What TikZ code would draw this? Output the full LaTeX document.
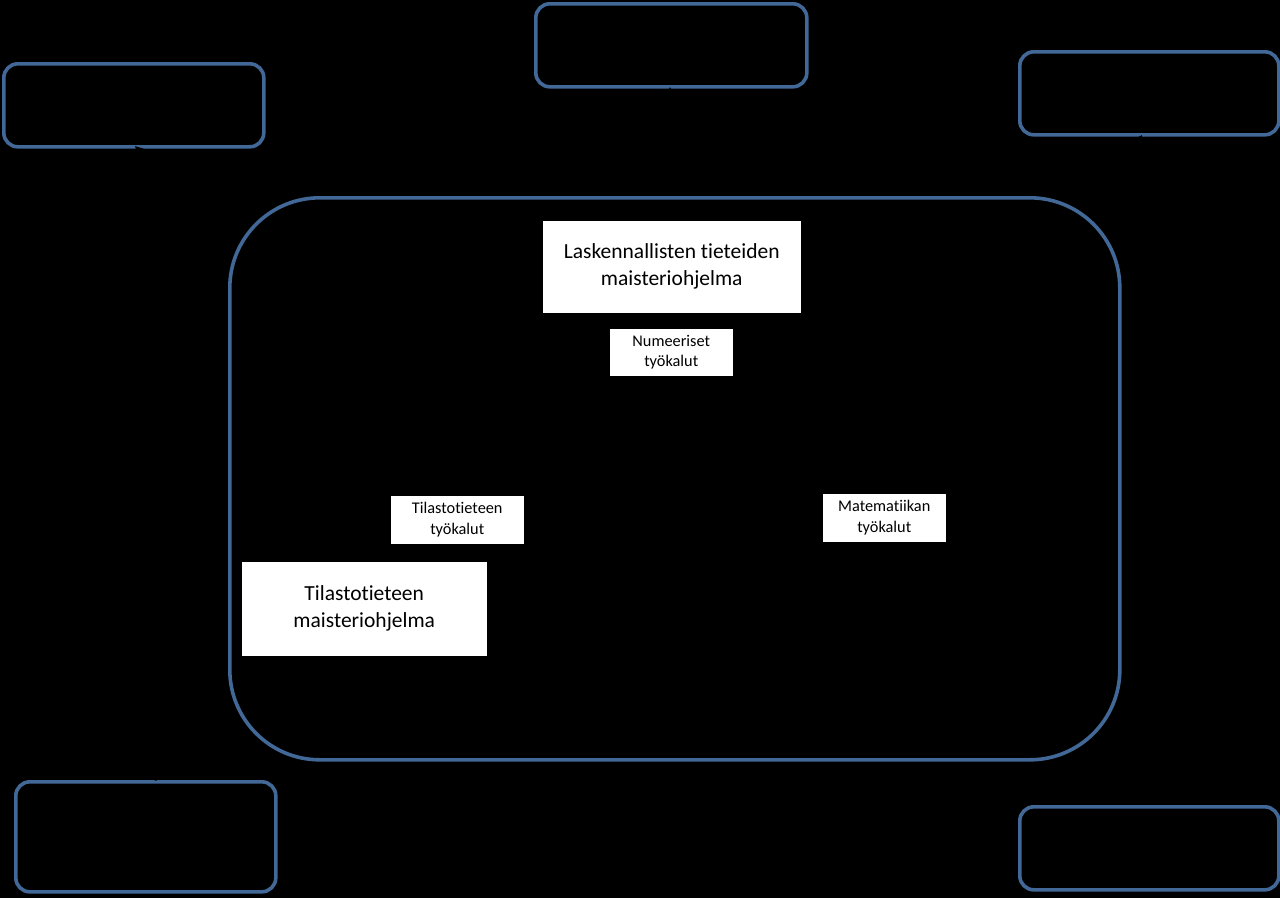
\documentclass[tikz,border=0pt]{standalone}
\usepackage{fontspec}
\setmainfont[Ligatures={NoCommon}]{Carlito}
\usetikzlibrary{arrows.meta}
\definecolor{frameblue}{RGB}{65,104,150}
\begin{document}
\begin{tikzpicture}[x=1pt,y=-1pt,
  frame/.style={draw=frameblue,line width=3.6pt,rounded corners=14pt,inner sep=0pt,anchor=north west},
  bigtext/.style={fill=white,draw=black,line width=0.5pt,align=center,inner sep=0pt,anchor=north west,font=\fontsize{21.5}{27}\selectfont},
  smalltext/.style={fill=white,draw=black,line width=0.5pt,align=center,inner sep=0pt,anchor=north west,font=\fontsize{16.3}{20.5}\selectfont},
  hidden/.style={draw=black,line width=2pt,-{Triangle[length=8pt,width=8pt]}}]
\fill[black] (0,0) rectangle (1280,898);
\useasboundingbox (0,0) rectangle (1280,898);
% outer frames
\node[frame,minimum width=260pt,minimum height=83pt] (tl) at (2,62) {};
\node[frame,minimum width=271pt,minimum height=83pt] (tc) at (534,2) {};
\node[frame,minimum width=259pt,minimum height=83pt] (tr) at (1018,50) {};
\node[frame,minimum width=260pt,minimum height=110pt] (bl) at (14,780) {};
\node[frame,minimum width=259pt,minimum height=83pt] (br) at (1018,805) {};
% hidden black connectors (only their tips show as notches)
\coordinate (tlend) at (135,146);
\coordinate (tcend) at (670,87);
\coordinate (trend) at (1142,135);
\coordinate (blend) at (148,778);
\coordinate (brend) at (1147,803);
\coordinate (s1) at (400,420);
\coordinate (s2) at (670,420);
\coordinate (s3) at (950,420);
\coordinate (s4) at (600,700);
\coordinate (s5) at (950,700);
\draw[hidden] (s1) -- (tlend);
\draw[hidden] (s2) -- (tcend);
\draw[hidden] (s3) -- (trend);
\draw[hidden] (s4) -- (blend);
\draw[hidden] (s5) -- (brend);
% big frame
\node[draw=frameblue,line width=3.6pt,rounded corners=90pt,inner sep=0pt,anchor=north west,minimum width=890pt,minimum height=562pt] (big) at (228,196) {};
% white boxes
\node[bigtext,minimum width=259pt,minimum height=93pt] (lask) at (542,220) {Laskennallisten tieteiden\\maisteriohjelma};
\node[smalltext,minimum width=124pt,minimum height=48pt] (num) at (609,328) {Numeeriset\\työkalut};
\node[smalltext,minimum width=134pt,minimum height=49pt] (tilt) at (390,495) {Tilastotieteen\\työkalut};
\node[bigtext,minimum width=246pt,minimum height=95pt] (tilm) at (241,561) {Tilastotieteen\\maisteriohjelma};
\node[smalltext,minimum width=124pt,minimum height=49pt] (mat) at (822,493) {Matematiikan\\työkalut};
\end{tikzpicture}
\end{document}
